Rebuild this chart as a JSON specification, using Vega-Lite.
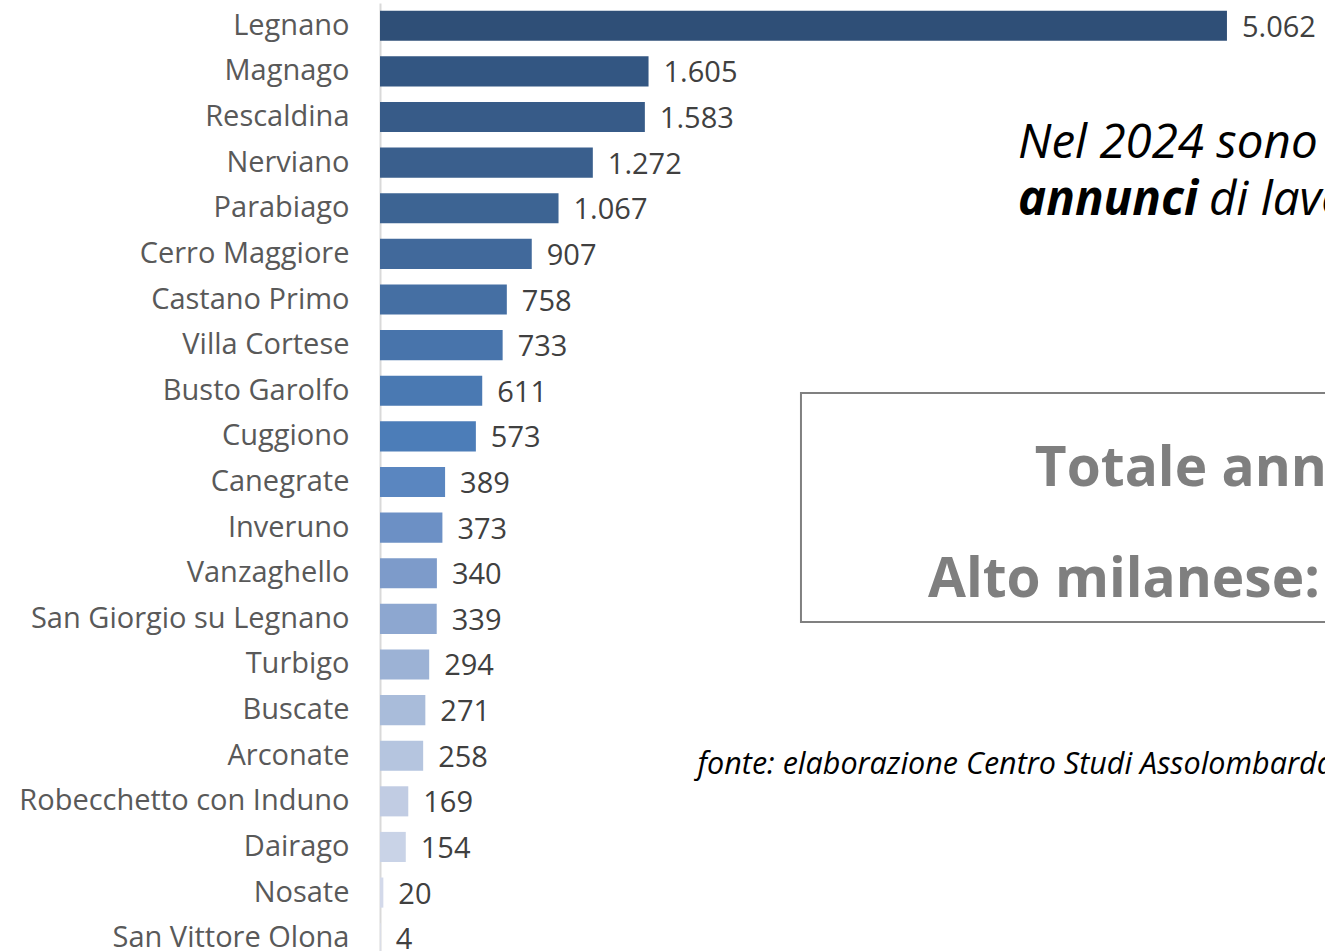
{
  "$schema": "https://vega.github.io/schema/vega-lite/v6.json",
  "width": 945,
  "height": 951,
  "autosize": {"type": "none"},
  "padding": {"left": 380, "top": 0, "right": 0, "bottom": 0},
  "background": "white",
  "config": {
    "view": {"stroke": null},
    "font": "Open Sans",
    "locale": {"number": {"decimal": ",", "thousands": ".", "grouping": [3], "currency": ["€", ""]}}
  },
  "datasets": {
    "comuni": [
      {"comune": "Legnano", "annunci": 5062},
      {"comune": "Magnago", "annunci": 1605},
      {"comune": "Rescaldina", "annunci": 1583},
      {"comune": "Nerviano", "annunci": 1272},
      {"comune": "Parabiago", "annunci": 1067},
      {"comune": "Cerro Maggiore", "annunci": 907},
      {"comune": "Castano Primo", "annunci": 758},
      {"comune": "Villa Cortese", "annunci": 733},
      {"comune": "Busto Garolfo", "annunci": 611},
      {"comune": "Cuggiono", "annunci": 573},
      {"comune": "Canegrate", "annunci": 389},
      {"comune": "Inveruno", "annunci": 373},
      {"comune": "Vanzaghello", "annunci": 340},
      {"comune": "San Giorgio su Legnano", "annunci": 339},
      {"comune": "Turbigo", "annunci": 294},
      {"comune": "Buscate", "annunci": 271},
      {"comune": "Arconate", "annunci": 258},
      {"comune": "Robecchetto con Induno", "annunci": 169},
      {"comune": "Dairago", "annunci": 154},
      {"comune": "Nosate", "annunci": 20},
      {"comune": "San Vittore Olona", "annunci": 4}
    ],
    "testo_italic": [
      {"testo": "Nel 2024 sono", "x": 3813, "riga": 3.4},
      {"testo": "di lavoro", "x": 4954, "riga": 4.65}
    ],
    "testo_bolditalic": [
      {"testo": "annunci", "x": 3813, "riga": 4.65}
    ],
    "testo_box": [
      {"testo": "Totale annunci", "x": 3914, "riga": 10.59},
      {"testo": "Alto milanese:", "x": 3275, "riga": 13.01}
    ],
    "fonte": [
      {"testo": "fonte: elaborazione Centro Studi Assolombarda", "x": 1898, "riga": 16.9}
    ],
    "box": [
      {"x": 2516, "x2": 6000, "riga": 8.55, "riga2": 13.57}
    ]
  },
  "resolve": {"scale": {"y": "independent"}, "axis": {"y": "independent"}},
  "layer": [
    {
      "data": {"name": "comuni"},
      "layer": [
        {
          "mark": {"type": "bar"},
          "encoding": {
            "y": {
              "field": "comune", "type": "nominal", "sort": null,
              "scale": {"range": [3, 961], "paddingInner": 0.34, "paddingOuter": 0.17},
              "axis": {
                "title": null, "ticks": false, "tickSize": 0, "labelPadding": 31,
                "labelFontSize": 29, "labelColor": "#595959", "labelFont": "Open Sans",
                "labelLimit": 500, "labelOverlap": false,
                "domainColor": "#D9D9D9", "domainWidth": 2, "grid": false
              }
            },
            "x": {
              "field": "annunci", "type": "quantitative",
              "scale": {"domain": [0, 5648], "nice": false, "zero": true},
              "axis": null
            },
            "color": {
              "field": "comune", "type": "nominal", "legend": null,
              "scale": {
                "domain": ["Legnano", "Magnago", "Rescaldina", "Nerviano", "Parabiago", "Cerro Maggiore", "Castano Primo", "Villa Cortese", "Busto Garolfo", "Cuggiono", "Canegrate", "Inveruno", "Vanzaghello", "San Giorgio su Legnano", "Turbigo", "Buscate", "Arconate", "Robecchetto con Induno", "Dairago", "Nosate", "San Vittore Olona"],
                "range": ["#2F4F77", "#335682", "#375B88", "#3A5F8D", "#3D6493", "#41699B", "#456FA3", "#4874AB", "#4A79B2", "#4C7DB8", "#5A86C0", "#6C90C5", "#7D9BCA", "#8DA7D0", "#9CB2D5", "#A9BCDA", "#B5C5DF", "#C1CCE3", "#C9D3E7", "#D3D9EA", "#DDE2EF"]
              }
            }
          }
        },
        {
          "mark": {"type": "text", "align": "left", "baseline": "middle", "dx": 15, "dy": 2, "fontSize": 29, "color": "#404040", "font": "Open Sans"},
          "encoding": {
            "y": {"field": "comune", "type": "nominal", "sort": null},
            "x": {"field": "annunci", "type": "quantitative"},
            "text": {"field": "annunci", "type": "quantitative", "format": ",d"}
          }
        }
      ]
    },
    {
      "data": {"name": "box"},
      "mark": {"type": "rect", "fill": null, "stroke": "#808080", "strokeWidth": 2},
      "encoding": {
        "x": {"field": "x", "type": "quantitative"},
        "x2": {"field": "x2"},
        "y": {"field": "riga", "type": "quantitative", "scale": {"domain": [0, 21], "range": [3, 961], "nice": false, "zero": false}, "axis": null},
        "y2": {"field": "riga2"}
      }
    },
    {
      "data": {"name": "testo_italic"},
      "mark": {"type": "text", "align": "left", "baseline": "alphabetic", "fontSize": 47.5, "fontStyle": "italic", "color": "#000000", "font": "Open Sans"},
      "encoding": {
        "x": {"field": "x", "type": "quantitative"},
        "y": {"field": "riga", "type": "quantitative", "scale": {"domain": [0, 21], "range": [3, 961], "nice": false, "zero": false}, "axis": null},
        "text": {"field": "testo"}
      }
    },
    {
      "data": {"name": "testo_bolditalic"},
      "mark": {"type": "text", "align": "left", "baseline": "alphabetic", "fontSize": 47.5, "fontStyle": "italic", "fontWeight": "bold", "color": "#000000", "font": "Open Sans"},
      "encoding": {
        "x": {"field": "x", "type": "quantitative"},
        "y": {"field": "riga", "type": "quantitative", "scale": {"domain": [0, 21], "range": [3, 961], "nice": false, "zero": false}, "axis": null},
        "text": {"field": "testo"}
      }
    },
    {
      "data": {"name": "testo_box"},
      "mark": {"type": "text", "align": "left", "baseline": "alphabetic", "fontSize": 55, "fontWeight": "bold", "color": "#7F7F7F", "font": "Open Sans"},
      "encoding": {
        "x": {"field": "x", "type": "quantitative"},
        "y": {"field": "riga", "type": "quantitative", "scale": {"domain": [0, 21], "range": [3, 961], "nice": false, "zero": false}, "axis": null},
        "text": {"field": "testo"}
      }
    },
    {
      "data": {"name": "fonte"},
      "mark": {"type": "text", "align": "left", "baseline": "alphabetic", "fontSize": 30.5, "fontStyle": "italic", "color": "#000000", "font": "Open Sans"},
      "encoding": {
        "x": {"field": "x", "type": "quantitative"},
        "y": {"field": "riga", "type": "quantitative", "scale": {"domain": [0, 21], "range": [3, 961], "nice": false, "zero": false}, "axis": null},
        "text": {"field": "testo"}
      }
    }
  ]
}
